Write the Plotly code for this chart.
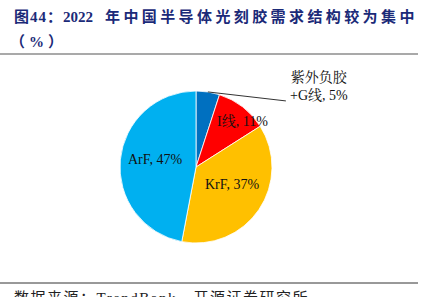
import math
import plotly.graph_objects as go

# ---- data ----
categories = ["紫外负胶+G线", "I线", "KrF", "ArF"]
values = [5, 11, 37, 47]
label_names = ["紫外负胶<br>+G线", "I线", "KrF", "ArF"]
colors = ["#0070C0", "#FF0000", "#FFC000", "#00B0F0"]

W, H = 423, 297
CX, CY, R = 196, 167, 76  # pie centre / radius in px


def px(x, y):
    return x / W, 1 - y / H


fig = go.Figure()
fig.add_trace(go.Pie(
    labels=categories, values=values, sort=False, direction="clockwise",
    rotation=0, marker=dict(colors=colors, line=dict(color="white", width=0.8)),
    textinfo="none", hoverinfo="label+percent", showlegend=False,
    domain=dict(x=[(CX - R) / W, (CX + R) / W], y=[1 - (CY + R) / H, 1 - (CY - R) / H]),
))

total = sum(values)
cum = 0
# per-label radial fraction and angle tweak (deg)
place = {0: None, 1: (0.86, 8), 2: (0.53, -9), 3: (0.55, 5)}
font_lbl = dict(family="Liberation Serif, Noto Serif CJK SC, Noto Sans CJK SC", size=14, color="#111111")
for i, v in enumerate(values):
    mid = (cum + v / 2) / total * 360
    cum += v
    pct = round(v / total * 100)
    if place[i] is None:
        a = math.radians(mid)
        sx, sy = CX + R * math.sin(a), CY - R * math.cos(a)
        ex, ey = sx + 78, sy + 9
        x0, y0 = px(sx, sy)
        x1, y1 = px(ex, ey)
        fig.add_shape(type="line", xref="paper", yref="paper", x0=x0, y0=y0, x1=x1, y1=y1,
                      line=dict(color="#333333", width=1))
        lx, ly = px(ex + 33, ey - 15)
        fig.add_annotation(x=lx, y=ly, xref="paper", yref="paper", xanchor="center", yanchor="middle",
                           text=f"{label_names[i]}, {pct}%", showarrow=False, font=font_lbl,
                           align="center")
    else:
        k, tw = place[i]
        a = math.radians(mid + tw)
        lx, ly = px(CX + k * R * math.sin(a), CY - k * R * math.cos(a))
        fig.add_annotation(x=lx, y=ly, xref="paper", yref="paper", xanchor="center", yanchor="middle",
                           text=f"{label_names[i]}, {pct}%", showarrow=False, font=font_lbl)

title_font = dict(family="Liberation Serif, Noto Sans CJK SC", size=15, color="#1B2A78")
tx, ty = px(12, 17)
fig.add_annotation(x=tx, y=ty, xref="paper", yref="paper", xanchor="left", yanchor="middle",
                   showarrow=False, font=title_font,
                   text='<b><span style="letter-spacing:1px">图44：</span>2022</b>')
tx, ty = px(103, 17)
fig.add_annotation(x=tx, y=ty, xref="paper", yref="paper", xanchor="left", yanchor="middle",
                   showarrow=False, font=title_font,
                   text='<b><span style="letter-spacing:3.4px">年中国半导体光刻胶需求结构较为集中</span></b>')
tx, ty = px(8, 42)
fig.add_annotation(x=tx, y=ty, xref="paper", yref="paper", xanchor="left", yanchor="middle",
                   showarrow=False, font=title_font,
                   text='<b><span style="letter-spacing:4px">（%）</span></b>')

x0, y0 = px(0, 54)
x1, _ = px(418, 54)
fig.add_shape(type="line", xref="paper", yref="paper", x0=x0, y0=y0, x1=x1, y1=y0,
              line=dict(color="#8c8c8c", width=1.5))
x0, y0 = px(0, 283)
x1, _ = px(418, 283)
fig.add_shape(type="line", xref="paper", yref="paper", x0=x0, y0=y0, x1=x1, y1=y0,
              line=dict(color="#333333", width=1))

sx, sy = px(12, 298)
fig.add_annotation(x=sx, y=sy, xref="paper", yref="paper", xanchor="left", yanchor="middle",
                   showarrow=False,
                   font=dict(family="Liberation Serif, Noto Sans CJK SC", size=15, color="#222222"),
                   text='<span style="letter-spacing:1.5px">数据来源：TrendBank、开源证券研究所</span>')

fig.update_layout(width=W, height=H, margin=dict(l=0, r=0, t=0, b=0),
                  paper_bgcolor="white", plot_bgcolor="white")
fig.write_html("out.html")
